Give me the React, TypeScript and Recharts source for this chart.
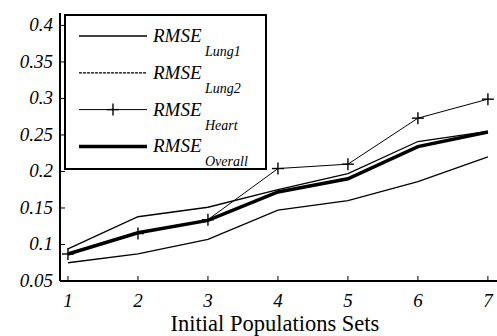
import React from 'react';
import { LineChart, Line, XAxis, YAxis } from 'recharts';

const sets = [1, 2, 3, 4, 5, 6, 7];
const lung1 = [0.075, 0.087, 0.107, 0.147, 0.16, 0.186, 0.22];
const lung2 = [0.094, 0.138, 0.151, 0.175, 0.197, 0.241, 0.255];
const heart = [0.087, 0.115, 0.134, 0.204, 0.21, 0.273, 0.299];
const overall = [0.087, 0.116, 0.133, 0.172, 0.19, 0.234, 0.254];
const yTicks = [0.05, 0.1, 0.15, 0.2, 0.25, 0.3, 0.35, 0.4];

const data = sets.map((s, i) => ({
  set: s,
  lung1: lung1[i],
  lung2: lung2[i],
  heart: heart[i],
  overall: overall[i],
}));

const serif = { fontFamily: 'Liberation Serif, Times New Roman, serif' };
const italic = { ...serif, fontStyle: 'italic' as const };

const XTick = (props: any) => {
  const { x, y, payload } = props;
  const axisY = y - 10;
  return (
    <g>
      <line x1={x} y1={axisY} x2={x} y2={axisY - 5} stroke="#000" strokeWidth={1} />
      <text x={x} y={axisY + 26} textAnchor="middle" style={italic} fontSize={19} fill="#000">
        {payload.value}
      </text>
    </g>
  );
};

const YTick = (props: any) => {
  const { x, y, payload } = props;
  const axisX = x + 7;
  return (
    <g>
      <line x1={axisX} y1={y} x2={axisX + 5} y2={y} stroke="#000" strokeWidth={1} />
      <text x={x} y={y + 6} textAnchor="end" style={italic} fontSize={19} fill="#000">
        {String(payload.value)}
      </text>
    </g>
  );
};

const Cross = (props: any) => {
  const { cx, cy } = props;
  if (cx == null || cy == null) return null;
  return (
    <g>
      <line x1={cx - 6} y1={cy} x2={cx + 6} y2={cy} stroke="#000" strokeWidth={1.4} />
      <line x1={cx} y1={cy - 6} x2={cx} y2={cy + 6} stroke="#000" strokeWidth={1.4} />
    </g>
  );
};

const legendRows = [
  { sub: 'Lung1', width: 1.3, dash: undefined, cross: false },
  { sub: 'Lung2', width: 1.3, dash: '3 1', cross: false },
  { sub: 'Heart', width: 1, dash: undefined, cross: true },
  { sub: 'Overall', width: 3.5, dash: undefined, cross: false },
];

const LegendBox = () => (
  <svg width={203} height={156} style={{ position: 'absolute', left: 64, top: 14 }}>
    <rect x={1} y={1} width={201} height={154} fill="#fff" stroke="#000" strokeWidth={2} />
    {legendRows.map((r, i) => {
      const ly = 22 + i * 36.8;
      return (
        <g key={r.sub}>
          <line x1={15} y1={ly} x2={83} y2={ly} stroke="#000" strokeWidth={r.width} strokeDasharray={r.dash} />
          {r.cross && <Cross cx={49} cy={ly} />}
          <text x={89} y={ly + 6} style={italic} fontSize={19} fill="#000">
            RMSE
          </text>
          <text x={141} y={ly + 20} style={italic} fontSize={14} fill="#000">
            {r.sub}
          </text>
        </g>
      );
    })}
  </svg>
);

export default function App() {
  return (
    <div style={{ position: 'absolute', left: 0, top: 0, width: 497, height: 336, background: '#fff' }}>
      <LineChart width={497} height={336} data={data} margin={{ top: 13, right: 0, bottom: 0, left: 0 }}>
        <XAxis
          dataKey="set"
          type="number"
          domain={[0.886, 7.13]}
          ticks={sets}
          allowDataOverflow
          height={55}
          tickSize={0}
          tickMargin={10}
          tick={<XTick />}
          axisLine={{ stroke: '#000', strokeWidth: 2 }}
          tickLine={false}
          label={{
            content: () => (
              <text x={275} y={331} textAnchor="middle" style={serif} fontSize={22.5} fill="#000">
                Initial Populations Sets
              </text>
            ),
          }}
        />
        <YAxis
          type="number"
          domain={[0.05, 0.417]}
          ticks={yTicks}
          allowDataOverflow
          width={60}
          tickSize={0}
          tickMargin={7}
          tick={<YTick />}
          axisLine={{ stroke: '#000', strokeWidth: 2 }}
          tickLine={false}
        />
        <Line dataKey="lung1" stroke="#000" strokeWidth={1.3} dot={false} isAnimationActive={false} type="linear" />
        <Line dataKey="lung2" stroke="#000" strokeWidth={1.3} dot={false} isAnimationActive={false} type="linear" />
        <Line dataKey="heart" stroke="#000" strokeWidth={1} dot={<Cross />} isAnimationActive={false} type="linear" />
        <Line dataKey="overall" stroke="#000" strokeWidth={3.5} dot={false} isAnimationActive={false} type="linear" />
      </LineChart>
      <LegendBox />
    </div>
  );
}
